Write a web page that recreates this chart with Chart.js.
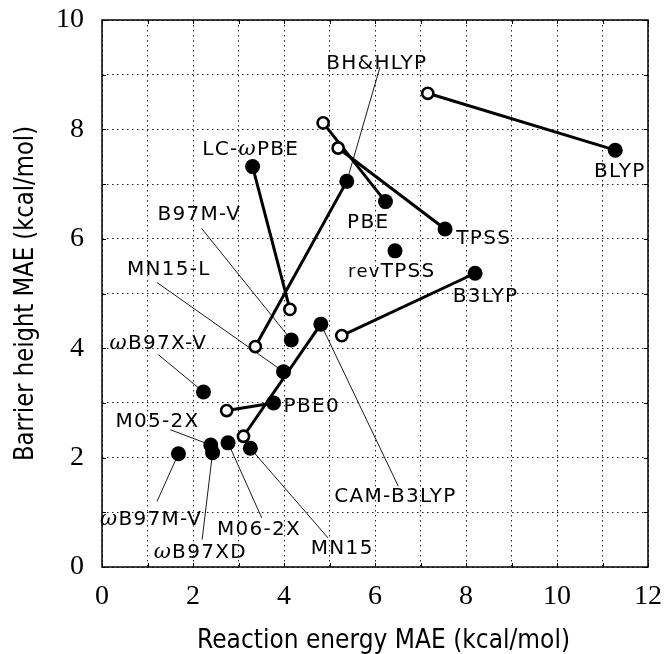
<!DOCTYPE html>
<html><head><meta charset="utf-8">
<script src="https://cdn.jsdelivr.net/npm/chart.js@4/dist/chart.umd.min.js"></script>
<style>html,body{margin:0;padding:0;background:#fff}canvas{display:block}</style>
</head><body>
<canvas id="c" width="665" height="654"></canvas>
<script>
// ---- data ----
const methods = ['BLYP','PBE','TPSS','revTPSS','B3LYP','LC-ωPBE','BH&HLYP','B97M-V','MN15-L','CAM-B3LYP','PBE0','ωB97X-V','M05-2X','ωB97XD','M06-2X','MN15','ωB97M-V'];
const reactionMAE = [11.28,6.23,7.54,6.44,8.20,3.31,5.38,4.16,3.99,4.81,3.77,2.23,2.39,2.43,2.77,3.26,1.68];
const barrierMAE  = [7.62,6.68,6.18,5.78,5.37,7.32,7.05,4.15,3.57,4.44,3.00,3.20,2.23,2.09,2.27,2.17,2.07];
// open-circle (alternative) values, null where absent
const altReactionMAE = [7.16,4.86,5.19,null,5.27,4.13,3.37,null,null,3.11,2.74,null,null,null,null,null,null];
const altBarrierMAE  = [8.66,8.12,7.66,null,4.23,4.71,4.03,null,null,2.39,2.86,null,null,null,null,null,null];
const xTicks = [0,2,4,6,8,10,12];
const yTicks = [0,2,4,6,8,10];
const xTitle = 'Reaction energy MAE (kcal/mol)';
const yTitle = 'Barrier height MAE (kcal/mol)';

// ---- label placement (data coordinates): text centre, optional leader start ----
const labelPlacement = {
  'BLYP':      {x:11.38, y:7.26},
  'PBE':       {x:5.85, y:6.33},
  'TPSS':      {x:8.39, y:6.03},
  'revTPSS':   {x:6.37, y:5.43},
  'B3LYP':     {x:8.43, y:4.98},
  'LC-ωPBE':   {x:3.27, y:7.66},
  'BH&HLYP':   {x:6.04, y:9.24, lx:6.11, ly:9.14},
  'B97M-V':    {x:2.14, y:6.47, lx:2.19, ly:6.19},
  'MN15-L':    {x:1.47, y:5.47, lx:1.21, ly:5.20},
  'CAM-B3LYP': {x:6.45, y:1.32, lx:6.51, ly:1.48},
  'PBE0':      {x:4.61, y:2.97},
  'ωB97X-V':   {x:1.24, y:4.11, lx:1.24, ly:3.88},
  'M05-2X':    {x:1.22, y:2.69, lx:1.50, ly:2.51},
  'ωB97XD':    {x:2.16, y:0.30, lx:2.20, ly:0.50},
  'M06-2X':    {x:3.45, y:0.72, lx:3.51, ly:0.90},
  'MN15':      {x:5.28, y:0.37, lx:4.97, ly:0.53},
  'ωB97M-V':   {x:1.08, y:0.91, lx:1.21, ly:1.20}
};

const filledPts = methods.map((m,i)=>({x:reactionMAE[i], y:barrierMAE[i]}));
const openPts = [];
const pairSets = [];
methods.forEach((m,i)=>{
  if (altReactionMAE[i] !== null) {
    openPts.push({x:altReactionMAE[i], y:altBarrierMAE[i]});
    pairSets.push({
      label: m + ' pair',
      data: [{x:altReactionMAE[i], y:altBarrierMAE[i]}, {x:reactionMAE[i], y:barrierMAE[i]}],
      showLine: true, borderColor:'#000', borderWidth:3, pointRadius:0, pointHoverRadius:0, order:3
    });
  }
});

const LABEL_FONT = '20px "DejaVu Sans"';
const SMALL_FONT = '18px "DejaVu Sans"';
const OMEGA_FONT = 'italic 21px "DejaVu Serif"';

function runsFor(text){
  const runs = [];
  if (text.startsWith('rev')) { runs.push({t:'rev', f:SMALL_FONT}); text = text.slice(3); }
  let buf = '';
  for (const ch of text) {
    if (ch === 'ω') { if (buf) {runs.push({t:buf,f:LABEL_FONT}); buf='';} runs.push({t:'ω', f:OMEGA_FONT}); }
    else buf += ch;
  }
  if (buf) runs.push({t:buf, f:LABEL_FONT});
  return runs;
}

function drawTitle(ctx, text, targetW){
  ctx.font = '27px "DejaVu Sans"';
  const w = ctx.measureText(text).width;
  const s = targetW / w;
  ctx.scale(s, 1);
  ctx.fillText(text, 0, 0);
}

const annot = {
  id:'annot',
  beforeDatasetsDraw(chart){
    const {ctx, scales:{x,y}} = chart;
    ctx.save();
    ctx.strokeStyle = '#000'; ctx.lineWidth = 0.9;
    methods.forEach((m,i)=>{
      const p = labelPlacement[m];
      if (p && p.lx !== undefined) {
        ctx.beginPath();
        ctx.moveTo(x.getPixelForValue(p.lx), y.getPixelForValue(p.ly));
        ctx.lineTo(x.getPixelForValue(reactionMAE[i]), y.getPixelForValue(barrierMAE[i]));
        ctx.stroke();
      }
    });
    ctx.restore();
  },
  afterDatasetsDraw(chart){
    const {ctx, scales:{x,y}} = chart;
    ctx.save();
    ctx.fillStyle = '#000';
    ctx.textBaseline = 'alphabetic';
    ctx.textAlign = 'left';
    try { ctx.letterSpacing = '1.3px'; } catch(e){}
    methods.forEach(m=>{
      const p = labelPlacement[m];
      if (!p) return;
      const runs = runsFor(m);
      let w = 0;
      runs.forEach(r=>{ ctx.font = r.f; r.w = ctx.measureText(r.t).width; w += r.w; });
      let cx = x.getPixelForValue(p.x) - w/2;
      const cy = y.getPixelForValue(p.y) + 7.3;
      runs.forEach(r=>{ ctx.font = r.f; ctx.fillText(r.t, cx, cy); cx += r.w; });
    });
    ctx.restore();
  },
  afterDraw(chart){
    const {ctx, chartArea:a, scales:{x,y}} = chart;
    ctx.save();
    ctx.strokeStyle = '#000';
    ctx.lineWidth = 1;
    const tl = 4;
    ctx.beginPath();
    for (let v=0; v<=12; v++){
      const px = Math.round(x.getPixelForValue(v))+0.5;
      ctx.moveTo(px, a.bottom); ctx.lineTo(px, a.bottom-tl);
      ctx.moveTo(px, a.top); ctx.lineTo(px, a.top+tl);
    }
    for (let v=0; v<=10; v++){
      const py = Math.round(y.getPixelForValue(v))+0.5;
      ctx.moveTo(a.left, py); ctx.lineTo(a.left+tl, py);
      ctx.moveTo(a.right, py); ctx.lineTo(a.right-tl, py);
    }
    ctx.stroke();
    ctx.lineWidth = 1.5;
    ctx.strokeRect(a.left, a.top, a.right-a.left, a.bottom-a.top);
    ctx.restore();
    // axis titles
    ctx.save();
    ctx.fillStyle = '#000';
    ctx.textAlign = 'center'; ctx.textBaseline = 'alphabetic';
    ctx.translate(383.5, 648);
    drawTitle(ctx, xTitle, 373);
    ctx.restore();
    ctx.save();
    ctx.fillStyle = '#000';
    ctx.textAlign = 'center'; ctx.textBaseline = 'alphabetic';
    ctx.translate(33, (a.top+a.bottom)/2);
    ctx.rotate(-Math.PI/2);
    drawTitle(ctx, yTitle, 335);
    ctx.restore();
  }
};

new Chart(document.getElementById('c'), {
  type:'scatter',
  data:{ datasets:[
    {label:'filled', data:filledPts, pointRadius:7.5, pointHoverRadius:7.5, backgroundColor:'#000', borderColor:'#000', borderWidth:0, order:1},
    {label:'open', data:openPts, pointRadius:5.6, pointHoverRadius:5.6, backgroundColor:'#fff', borderColor:'#000', borderWidth:2.6, order:2},
    ...pairSets
  ]},
  options:{
    responsive:false, animation:false, devicePixelRatio:1,
    layout:{padding:{top:20, right:17, left:0, bottom:0}},
    plugins:{legend:{display:false}, tooltip:{enabled:false}, title:{display:false}},
    events:[],
    scales:{
      x:{type:'linear', min:0, max:12,
         afterFit(s){ s.height = 87; s.paddingLeft = 0; s.paddingRight = 0; },
         afterBuildTicks(s){ s.ticks = Array.from({length:13},(_,v)=>({value:v})); },
         ticks:{callback:v=> xTicks.includes(v)? String(v):'', font:{family:'Liberation Serif', size:28}, color:'#000', padding:13, maxRotation:0, autoSkip:false},
         grid:{color:'#222', lineWidth:1, drawTicks:false},
         border:{display:false, dash:[1.5,3.5]}},
      y:{type:'linear', min:0, max:10,
         afterFit(s){ s.width = 102; s.paddingTop = 0; s.paddingBottom = 0; },
         afterBuildTicks(s){ s.ticks = Array.from({length:11},(_,v)=>({value:v})); },
         ticks:{callback:v=> yTicks.includes(v)? String(v):'', font:{family:'Liberation Serif', size:28}, color:'#000', padding:18, autoSkip:false},
         grid:{color:'#222', lineWidth:1, drawTicks:false},
         border:{display:false, dash:[1.5,3.5]}}
    }
  },
  plugins:[annot]
});
</script>
</body></html>
